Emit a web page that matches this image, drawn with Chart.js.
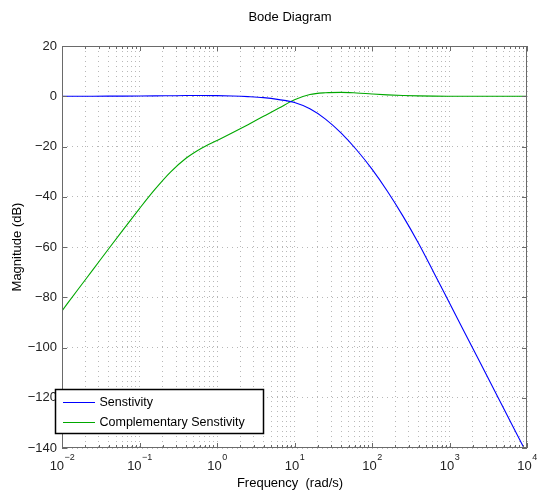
<!DOCTYPE html>
<html>
<head>
<meta charset="utf-8">
<script src="https://cdn.jsdelivr.net/npm/chart.js@4/dist/chart.umd.min.js"></script>
<style>
  body { margin: 0; background: #fff; }
  #wrap { width: 539px; height: 494px; }
</style>
</head>
<body>
<div id="wrap"><canvas id="bode"></canvas></div>
<script>
// frequency (rad/s), 5 points per decade, and magnitude (dB)
const frequency = [0.01, 0.0158, 0.0251, 0.0398, 0.0631, 0.1, 0.158, 0.251, 0.398, 0.631,
                   1, 1.58, 2.51, 3.98, 6.31, 10, 15.8, 25.1, 39.8, 63.1,
                   100, 158, 251, 398, 631, 1000, 1585, 2512, 3981, 6310, 10000];
const sensitivity = [0, 0.01, 0.02, 0.03, 0.05, 0.08, 0.13, 0.2, 0.27, 0.3,
                     0.25, 0.1, -0.15, -0.55, -1.35, -2.5, -5.0, -9.1, -14.6, -21.3,
                     -29.0, -37.8, -47.7, -58.5, -70.3, -82.3, -94.3, -106.3, -118.3, -130.3, -142.3];
const complementary = [-85.4, -77.2, -69.0, -60.8, -52.7, -44.7, -37.1, -30.2, -24.7, -20.7,
                       -17.6, -14.5, -11.3, -8.0, -4.7, -1.4, 0.7, 1.4, 1.55, 1.3,
                       0.9, 0.55, 0.3, 0.13, 0.05, 0.02, 0, 0, 0, 0, 0];
const seriesNames = ['Senstivity', 'Complementary Senstivity'];
const seriesColors = ['#0000ff', '#00a800'];

// log tick positions: 1..9 per decade
const decades = [0.01, 0.1, 1, 10, 100, 1000];
const yTicks = [20, 0, -20, -40, -60, -80, -100, -120, -140];

const FONT = "'Liberation Sans', Arial, Helvetica, sans-serif";

function pairs(xs, ys) {
    return xs.map((x, i) => ({ x: x, y: ys[i] }));
}

const matlabLook = {
    id: 'matlabLook',
    afterDraw(chart) {
        const ctx = chart.ctx;
        const area = chart.chartArea;
        const xs = chart.scales.x;
        const ys = chart.scales.y;

        ctx.save();
        // axes box
        ctx.strokeStyle = '#6a6a6a';
        ctx.lineWidth = 1;
        ctx.strokeRect(area.left + 0.5, area.top + 0.5, area.right - area.left - 1, area.bottom - area.top - 1);

        // inward tick marks
        ctx.beginPath();
        xs.ticks.forEach(t => {
            const px = Math.round(xs.getPixelForValue(t.value)) + 0.5;
            const len = t.major ? 5 : 3;
            ctx.moveTo(px, area.bottom);
            ctx.lineTo(px, area.bottom - len);
            ctx.moveTo(px, area.top);
            ctx.lineTo(px, area.top + len);
        });
        ys.ticks.forEach(t => {
            const py = Math.round(ys.getPixelForValue(t.value)) + 0.5;
            ctx.moveTo(area.left, py);
            ctx.lineTo(area.left + 5, py);
            ctx.moveTo(area.right, py);
            ctx.lineTo(area.right - 5, py);
        });
        ctx.stroke();

        // x tick labels 10^n
        ctx.fillStyle = '#222';
        ctx.textBaseline = 'middle';
        xs.ticks.filter(t => t.major).forEach(t => {
            const px = xs.getPixelForValue(t.value);
            const e = Math.round(Math.log10(t.value));
            const expText = e < 0 ? '\u2212' + Math.abs(e) : String(e);
            ctx.font = '13px ' + FONT;
            const wBase = ctx.measureText('10').width;
            ctx.font = '9px ' + FONT;
            const wExp = ctx.measureText(expText).width;
            const x0 = px - (wBase + wExp) / 2;
            ctx.textAlign = 'left';
            ctx.font = '13px ' + FONT;
            ctx.fillText('10', x0, area.bottom + 18);
            ctx.font = '9px ' + FONT;
            ctx.fillText(expText, x0 + wBase + 0.5, area.bottom + 10);
        });

        // titles
        ctx.fillStyle = '#000';
        ctx.textAlign = 'center';
        ctx.font = '13px ' + FONT;
        ctx.fillText('Bode Diagram', 290, 17);
        ctx.fillText('Frequency  (rad/s)', 290, 483);
        ctx.save();
        ctx.translate(17, (area.top + area.bottom) / 2);
        ctx.rotate(-Math.PI / 2);
        ctx.fillText('Magnitude (dB)', 0, 0);
        ctx.restore();

        // legend box
        const lx = 55.5, ly = 389.5, lw = 208, lh = 44;
        ctx.fillStyle = '#fff';
        ctx.fillRect(lx, ly, lw, lh);
        ctx.strokeStyle = '#000';
        ctx.lineWidth = 1.5;
        ctx.strokeRect(lx, ly, lw, lh);
        chart.data.datasets.forEach((ds, i) => {
            const yy = 402.5 + i * 20;
            ctx.strokeStyle = ds.borderColor;
            ctx.lineWidth = 1;
            ctx.beginPath();
            ctx.moveTo(63, yy);
            ctx.lineTo(95, yy);
            ctx.stroke();
            ctx.fillStyle = '#000';
            ctx.textAlign = 'left';
            ctx.font = '12.5px ' + FONT;
            ctx.fillText(ds.label, 99.5, yy);
        });
        ctx.restore();
    }
};

const ctx = document.getElementById('bode').getContext('2d');
const chart = new Chart(ctx, {
    type: 'line',
    data: {
        datasets: [
            {
                label: seriesNames[0],
                data: pairs(frequency, sensitivity),
                borderColor: seriesColors[0],
                borderWidth: 1.1,
                pointRadius: 0,
                fill: false,
                cubicInterpolationMode: 'monotone'
            },
            {
                label: seriesNames[1],
                data: pairs(frequency, complementary),
                borderColor: seriesColors[1],
                borderWidth: 1.1,
                pointRadius: 0,
                fill: false,
                cubicInterpolationMode: 'monotone'
            }
        ]
    },
    options: {
        responsive: true,
        maintainAspectRatio: false,
        animation: false,
        layout: { padding: { left: 0, right: 12, top: 46, bottom: 0 } },
        plugins: {
            legend: { display: false },
            title: { display: false },
            tooltip: { enabled: false }
        },
        scales: {
            x: {
                type: 'logarithmic',
                min: 0.01,
                max: 10000,
                afterBuildTicks: axis => {
                    const list = [];
                    decades.forEach(d => {
                        for (let k = 1; k <= 9; k++) list.push({ value: d * k, major: k === 1 });
                    });
                    list.push({ value: 10000, major: true });
                    axis.ticks = list;
                },
                afterFit: axis => { axis.height = 46; },
                ticks: { display: false },
                grid: { color: '#b8b8b8', lineWidth: 1, drawTicks: false },
                border: { display: false, dash: [1, 4] }
            },
            y: {
                type: 'linear',
                min: -140,
                max: 20,
                afterBuildTicks: axis => {
                    axis.ticks = yTicks.map(v => ({ value: v }));
                },
                afterFit: axis => { axis.width = 62; },
                ticks: {
                    padding: 5,
                    color: '#222',
                    font: { family: FONT, size: 13 },
                    callback: v => (v < 0 ? '\u2212' + Math.abs(v) : String(v))
                },
                grid: { color: '#b8b8b8', lineWidth: 1, drawTicks: false },
                border: { display: false, dash: [1, 4] }
            }
        }
    },
    plugins: [matlabLook]
});
</script>
</body>
</html>
